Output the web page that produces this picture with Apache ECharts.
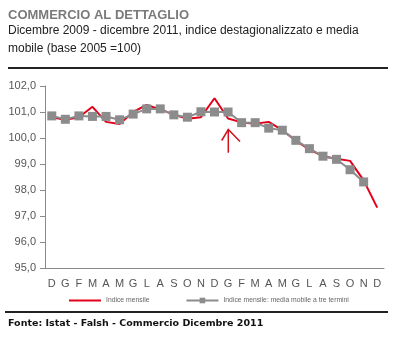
<!DOCTYPE html>
<html><head><meta charset="utf-8">
<script src="https://cdn.jsdelivr.net/npm/echarts@6/dist/echarts.min.js"></script>
<style>html,body{margin:0;padding:0;background:#fff}#c{width:400px;height:361px}</style>
</head><body><div id="c"></div>
<script>
const categories = ['D','G','F','M','A','M','G','L','A','S','O','N','D','G','F','M','A','M','G','L','A','S','O','N','D'];
const indiceMensile = [100.8,100.7,100.8,101.2,100.62,100.54,101.0,101.27,101.1,100.9,100.74,100.8,101.53,100.75,100.6,100.55,100.62,100.3,99.9,99.55,99.3,99.2,99.12,98.37,97.32];
const mediaMobile = [100.85,100.72,100.85,100.83,100.83,100.7,100.92,101.12,101.12,100.89,100.8,101.01,101.0,101.0,100.59,100.59,100.38,100.3,99.91,99.59,99.3,99.18,98.78,98.31,null];
const yTicks = [95,96,97,98,99,100,101,102];
const seriesNames = ['Indice mensile','Indice mensile: media mobile a tre termini'];

const chart = echarts.init(document.getElementById('c'), null, {renderer:'canvas'});
chart.setOption({
  animation:false,
  textStyle:{fontFamily:'Liberation Sans, Arial, sans-serif'},
  grid:{left:45,top:86,right:16,bottom:93,containLabel:false},
  xAxis:{type:'category',data:categories,boundaryGap:true,
    axisLine:{lineStyle:{color:'#8a8a8a',width:1}},axisTick:{show:false},
    axisLabel:{color:'#555',fontSize:11,margin:10,interval:0}},
  yAxis:{type:'value',min:yTicks[0],max:yTicks[yTicks.length-1],interval:1,
    axisLine:{show:true,lineStyle:{color:'#8a8a8a',width:1}},
    axisTick:{show:true,length:5,lineStyle:{color:'#8a8a8a'}},
    splitLine:{show:false},
    axisLabel:{color:'#555',fontSize:11,margin:9,formatter:v=>v.toFixed(1).replace('.',',')}},
  legend:{left:68,top:297,padding:0,itemWidth:32,itemHeight:7,itemGap:36,
    textStyle:{color:'#666',fontSize:6.8},
    data:[{name:seriesNames[0],itemStyle:{color:'rgba(0,0,0,0)',opacity:0,borderWidth:0}},{name:seriesNames[1]}]},
  series:[
    {name:seriesNames[0],type:'line',data:indiceMensile,symbol:'none',
     lineStyle:{color:'#e2001a',width:2},itemStyle:{color:'#e2001a'},z:2},
    {name:seriesNames[1],type:'line',data:mediaMobile,symbol:'rect',symbolSize:9,
     lineStyle:{color:'#8c8c8c',width:2},itemStyle:{color:'#8c8c8c'},z:3}
  ],
  graphic:[
    {type:'text',left:8,top:9,style:{text:'COMMERCIO AL DETTAGLIO',fill:'#7a7a7a',font:'bold 13px "Liberation Sans", Arial, sans-serif'}},
    {type:'text',left:8,top:25,style:{text:'Dicembre 2009 - dicembre 2011, indice destagionalizzato e media',fill:'#222',font:'12px "Liberation Sans", Arial, sans-serif'}},
    {type:'text',left:8,top:42.5,style:{text:'mobile (base 2005 =100)',fill:'#222',font:'12px "Liberation Sans", Arial, sans-serif'}},
    {type:'rect',shape:{x:8,y:67,width:380,height:2},style:{fill:'#222'}},
    {type:'rect',shape:{x:5,y:311,width:383,height:2},style:{fill:'#222'}},
    {type:'text',left:8,top:319,style:{text:'Fonte: Istat - Falsh - Commercio Dicembre 2011',fill:'#111',font:'bold 9.5px "DejaVu Sans", Verdana, sans-serif'}},
    {type:'polyline',shape:{points:[[228.3,152.7],[228.3,129.5]]},style:{stroke:'#d0101c',lineWidth:1.5,fill:null}},
    {type:'polyline',shape:{points:[[221.7,140.5],[228.3,129.5],[240,141.5]]},style:{stroke:'#d0101c',lineWidth:1.5,fill:null}}
  ]
});
</script></body></html>
